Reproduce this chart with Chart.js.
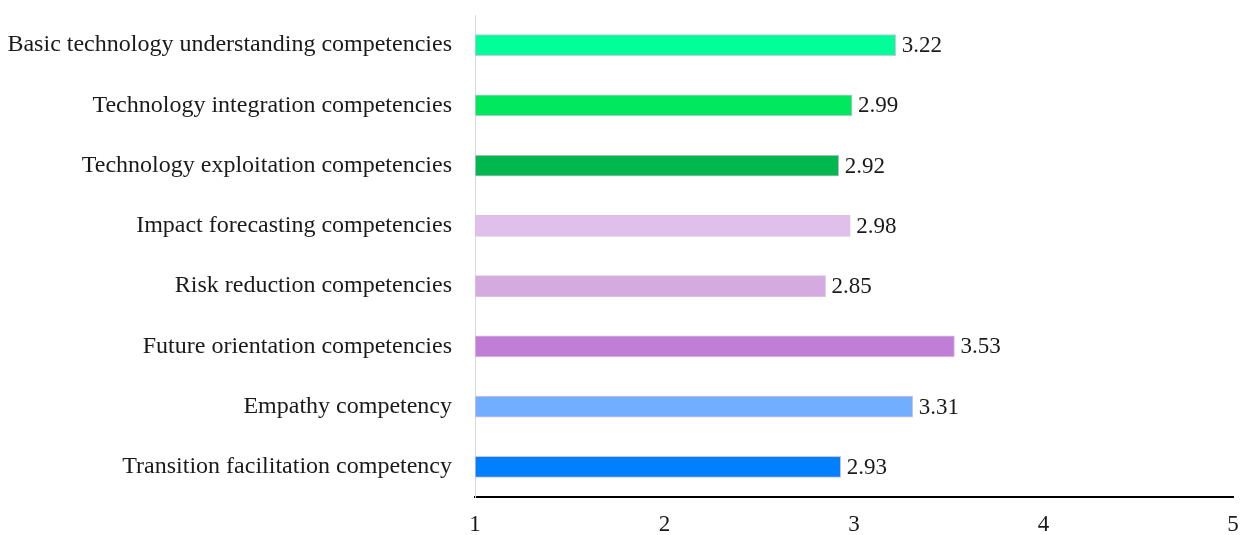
<!DOCTYPE html>
<html>
<head>
<meta charset="utf-8">
<script src="https://cdn.jsdelivr.net/npm/chart.js@4/dist/chart.umd.min.js"></script>
<style>
  html, body { margin: 0; padding: 0; background: #fff; }
  #wrap { width: 1242px; height: 535px; }
</style>
</head>
<body>
<div id="wrap"><canvas id="competencyChart" width="1242" height="535"></canvas></div>
<script>
// Categories, top to bottom
const categories = [
  'Basic technology understanding competencies',
  'Technology integration competencies',
  'Technology exploitation competencies',
  'Impact forecasting competencies',
  'Risk reduction competencies',
  'Future orientation competencies',
  'Empathy competency',
  'Transition facilitation competency'
];

// Mean scores
const scores = [3.22, 2.99, 2.92, 2.98, 2.85, 3.53, 3.31, 2.93];

// One fill per bar
const barColors = [
  '#00FF99', '#00E85E', '#00B84E',
  '#E0C0EA', '#D4AAE0', '#C07ED6',
  '#72AEFF', '#0080FF'
];

// X axis ticks
const xTicks = [1, 2, 3, 4, 5];

const FONT_FAMILY = '"Liberation Serif", "Times New Roman", serif';

// Draws the value to the right of each bar
const valueLabels = {
  id: 'valueLabels',
  afterDatasetsDraw(chart) {
    const ctx = chart.ctx;
    const meta = chart.getDatasetMeta(0);
    ctx.save();
    ctx.font = '23px ' + FONT_FAMILY;
    ctx.fillStyle = '#1a1a1a';
    ctx.textAlign = 'left';
    ctx.textBaseline = 'middle';
    meta.data.forEach((bar, i) => {
      ctx.fillText(scores[i].toFixed(2), bar.x + 6, bar.y + 1);
    });
    ctx.restore();
  }
};

const ctx = document.getElementById('competencyChart').getContext('2d');

new Chart(ctx, {
  type: 'bar',
  data: {
    labels: categories,
    datasets: [{
      data: scores,
      backgroundColor: barColors,
      borderColor: '#D8C0E4',
      borderWidth: 1,
      borderSkipped: false,
      barThickness: 21,
      base: 1
    }]
  },
  options: {
    indexAxis: 'y',
    responsive: false,
    animation: false,
    layout: { padding: { left: 0, right: 9, top: 15, bottom: 0 } },
    plugins: {
      legend: { display: false },
      tooltip: { enabled: false }
    },
    scales: {
      x: {
        min: 1,
        max: 5,
        afterBuildTicks: (scale) => {
          scale.ticks = xTicks.map(v => ({ value: v }));
        },
        afterFit: (scale) => {
          scale.height = 38;
          scale.paddingLeft = 0;
          scale.paddingRight = 0;
        },
        grid: { display: false, drawTicks: false },
        border: { display: true, color: '#000', width: 2 },
        ticks: {
          padding: 14,
          color: '#1a1a1a',
          font: { family: FONT_FAMILY, size: 23 }
        }
      },
      y: {
        afterFit: (scale) => {
          scale.width = 475;
          scale.paddingTop = 0;
          scale.paddingBottom = 0;
        },
        grid: { display: false, drawTicks: false },
        border: { display: true, color: '#D9D9D9', width: 1 },
        ticks: {
          padding: 23,
          color: '#1a1a1a',
          font: { family: FONT_FAMILY, size: 24 }
        }
      }
    }
  },
  plugins: [valueLabels]
});
</script>
</body>
</html>
